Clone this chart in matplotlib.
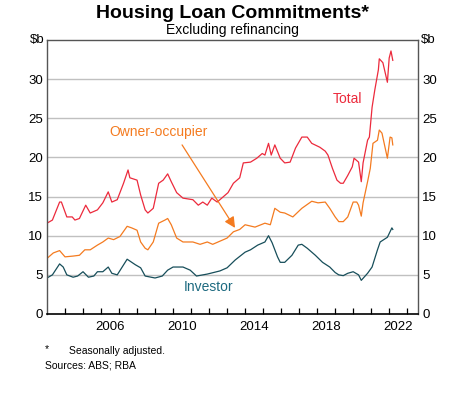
import matplotlib
matplotlib.use("Agg")
import matplotlib.pyplot as plt

plt.rcParams['font.family'] = ['Liberation Sans', 'DejaVu Sans']

# ---- data (decimal year, $b) ----
inv_dates = [2003.0, 2003.3, 2003.7, 2003.9, 2004.1, 2004.45, 2004.7, 2005.0, 2005.3, 2005.6,
             2005.8, 2006.1, 2006.4, 2006.6, 2006.9, 2007.45, 2007.9, 2008.2, 2008.45, 2009.0,
             2009.4, 2009.7, 2010.0, 2010.55, 2010.95, 2011.3, 2011.9, 2012.6, 2013.0, 2013.45,
             2014.0, 2014.3, 2014.7, 2015.1, 2015.3, 2015.5, 2015.8, 2015.95, 2016.2, 2016.6,
             2016.95, 2017.15, 2017.45, 2017.9, 2018.3, 2018.7, 2019.0, 2019.2, 2019.45, 2019.7,
             2020.0, 2020.3, 2020.45, 2020.8, 2021.05, 2021.35, 2021.5, 2021.9, 2022.15, 2022.2]
investor = [4.6, 5.0, 6.4, 6.0, 5.0, 4.7, 4.85, 5.4, 4.7, 4.85,
            5.4, 5.4, 6.0, 5.2, 5.0, 7.0, 6.3, 5.9, 4.85, 4.6,
            4.85, 5.6, 6.0, 6.0, 5.6, 4.85, 5.1, 5.5, 5.9, 6.9,
            7.9, 8.2, 8.8, 9.2, 10.0, 9.1, 7.3, 6.6, 6.6, 7.5,
            8.8, 8.9, 8.4, 7.5, 6.6, 6.0, 5.3, 5.0, 4.9, 5.2,
            5.4, 5.0, 4.3, 5.2, 6.0, 8.2, 9.2, 9.8, 11.0, 10.8]

own_dates = [2003.0, 2003.35, 2003.7, 2004.0, 2004.45, 2004.8, 2005.1, 2005.4, 2005.8, 2006.1,
             2006.4, 2006.7, 2007.05, 2007.45, 2007.7, 2008.0, 2008.2, 2008.45, 2008.6, 2008.9,
             2009.2, 2009.55, 2009.7, 2009.9, 2010.2, 2010.55, 2011.1, 2011.5, 2011.9, 2012.2,
             2012.6, 2013.0, 2013.35, 2013.7, 2014.0, 2014.55, 2015.1, 2015.4, 2015.65, 2015.95,
             2016.2, 2016.65, 2017.15, 2017.7, 2018.05, 2018.45, 2018.7, 2019.0, 2019.2, 2019.45,
             2019.7, 2020.0, 2020.2, 2020.3, 2020.45, 2020.55, 2020.8, 2020.95, 2021.1, 2021.35,
             2021.45, 2021.6, 2021.9, 2022.05, 2022.15, 2022.2]
owner = [7.1, 7.8, 8.1, 7.3, 7.4, 7.5, 8.2, 8.2, 8.8, 9.2,
         9.7, 9.5, 9.9, 11.2, 11.0, 10.7, 9.2, 8.4, 8.2, 9.2,
         11.6, 12.0, 12.2, 11.4, 9.7, 9.2, 9.2, 8.9, 9.2, 8.9,
         9.3, 9.7, 10.5, 10.8, 11.4, 11.1, 11.6, 11.4, 13.5, 13.0,
         12.9, 12.4, 13.5, 14.4, 14.2, 14.3, 13.5, 12.4, 11.8, 11.8,
         12.4, 14.3, 14.3, 13.9, 12.5, 14.2, 16.9, 18.6, 21.8, 22.2,
         23.5, 23.1, 19.9, 22.6, 22.5, 21.6]

tot_dates = [2003.0, 2003.3, 2003.7, 2003.8, 2004.1, 2004.4, 2004.55, 2004.8, 2005.15, 2005.4,
             2005.8, 2006.1, 2006.4, 2006.6, 2006.9, 2007.25, 2007.5, 2007.6, 2008.0, 2008.2,
             2008.45, 2008.6, 2008.9, 2009.2, 2009.45, 2009.7, 2009.9, 2010.2, 2010.55, 2011.1,
             2011.4, 2011.65, 2011.9, 2012.15, 2012.45, 2012.8, 2013.05, 2013.35, 2013.7, 2013.9,
             2014.3, 2014.65, 2014.95, 2015.1, 2015.3, 2015.45, 2015.65, 2015.95, 2016.2, 2016.5,
             2016.8, 2017.15, 2017.45, 2017.7, 2018.15, 2018.45, 2018.6, 2018.85, 2019.1, 2019.3,
             2019.45, 2019.7, 2019.95, 2020.05, 2020.3, 2020.45, 2020.55, 2020.8, 2020.9, 2021.05,
             2021.2, 2021.4, 2021.45, 2021.65, 2021.9, 2022.0, 2022.1, 2022.2]
total = [11.6, 12.0, 14.3, 14.3, 12.4, 12.4, 12.0, 12.2, 13.9, 12.9,
         13.3, 14.2, 15.6, 14.3, 14.6, 16.7, 18.4, 17.4, 17.1, 15.2,
         13.3, 12.9, 13.5, 16.7, 17.1, 17.9, 16.9, 15.5, 14.8, 14.6,
         13.9, 14.3, 13.9, 14.8, 14.3, 15.0, 15.5, 16.7, 17.4, 19.3,
         19.4, 19.9, 20.5, 20.3, 21.8, 20.3, 21.6, 19.9, 19.3, 19.4,
         21.2, 22.6, 22.6, 21.8, 21.3, 20.8, 20.3, 18.6, 17.1, 16.7,
         16.7, 17.7, 18.8, 19.9, 19.4, 16.9, 19.3, 22.2, 22.6, 26.4,
         28.6, 31.2, 32.6, 32.1, 29.6, 32.7, 33.6, 32.4]

year_labels = ['2006', '2010', '2014', '2018', '2022']
ytick_vals = [0, 5, 10, 15, 20, 25, 30]

# ---- colours ----
c_total = '#ec2a3c'
c_owner = '#f47b20'
c_inv = '#174e5a'
c_inv_text = '#1d6a80'

fig = plt.figure(figsize=(4.56, 3.99), dpi=100)
ax = fig.add_axes([47/456, 1-314/399, (418-47)/456, (314-40)/399])

ax.plot(tot_dates, total, color=c_total, lw=0.9)
ax.plot(own_dates, owner, color=c_owner, lw=0.9)
ax.plot(inv_dates, investor, color=c_inv, lw=0.9)

ax.set_xlim(2003.0, 2023.6)
ax.set_ylim(0, 35)

# grid
for v in ytick_vals[1:]:
    ax.axhline(v, color='#c0c0c0', lw=1.0, zorder=0)

# y ticks on both sides, no tick marks
ax.set_yticks(ytick_vals)
ax.set_yticklabels([str(v) for v in ytick_vals])
ax.tick_params(axis='y', which='both', length=0, labelsize=9.5, pad=3,
               left=False, right=False, labelleft=True, labelright=True)

# x ticks: year boundaries inward, labels centred in year
ax.set_xticks(list(range(2004, 2024)), minor=True)
ax.set_xticks([int(y) + 0.5 for y in year_labels])
ax.set_xticklabels(year_labels)
ax.tick_params(axis='x', which='major', length=0, labelsize=9.5, pad=5)
ax.tick_params(axis='x', which='minor', direction='in', length=4, width=0.9, color='black')

for s in ['top', 'left', 'right']:
    ax.spines[s].set_color('#555555')
    ax.spines[s].set_linewidth(1.0)
ax.spines['bottom'].set_color('black')
ax.spines['bottom'].set_linewidth(1.2)

# unit labels
ax.text(-0.008, 1.0, '$b', transform=ax.transAxes, ha='right', va='center', fontsize=9.5)
ax.text(1.008, 1.0, '$b', transform=ax.transAxes, ha='left', va='center', fontsize=9.5)

# series labels
ax.text(2019.7, 27.4, 'Total', color=c_total, fontsize=10, ha='center', va='center')
ax.text(2011.95, 3.4, 'Investor', color=c_inv_text, fontsize=10, ha='center', va='center')
ax.text(2009.2, 23.2, 'Owner-occupier', color=c_owner, fontsize=10, ha='center', va='center')
ax.annotate('', xy=(2013.44, 11.0), xytext=(2010.5, 21.6),
            arrowprops=dict(arrowstyle='-|>', color=c_owner, lw=0.9,
                            mutation_scale=16, shrinkA=0, shrinkB=0))

# titles
fig.text(232.5/456, 1-13/399, 'Housing Loan Commitments*', ha='center', va='center',
         fontsize=14, fontweight='bold')
fig.text(232.5/456, 1-30/399, 'Excluding refinancing', ha='center', va='center', fontsize=10)

# footnotes
fig.text(45/456, 1-349/399, '*', ha='left', va='center', fontsize=7.5)
fig.text(69/456, 1-351/399, 'Seasonally adjusted.', ha='left', va='center', fontsize=7.5)
fig.text(45/456, 1-366/399, 'Sources: ABS; RBA', ha='left', va='center', fontsize=7.5)

fig.savefig('out.png', dpi=100)
